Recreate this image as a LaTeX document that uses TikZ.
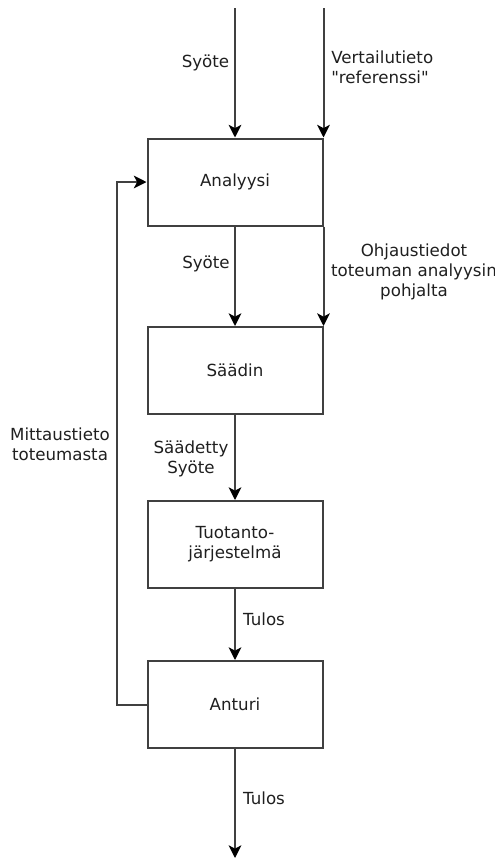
\documentclass[tikz,border=0pt]{standalone}
\usepackage{fontspec}
\setmainfont{DejaVu Sans}[Ligatures=TeXOff]
\usetikzlibrary{arrows.meta,positioning}
\tikzset{
  block/.style={draw=black!75,line width=1.5pt,minimum width=131.25pt,minimum height=65.25pt,
                inner sep=0pt,align=center,text=black!88},
  arrow/.style={-{Stealth[length=9.5pt,width=9.5pt,inset=2.5pt,black]},line width=1.5pt,draw=black!75},
  lbl/.style={inner sep=0pt,align=center,text=black!88}
}

\begin{document}
\begin{tikzpicture}[x=0.75pt,y=-0.75pt,font=\fontsize{12.5}{15}\selectfont]
  \useasboundingbox (0,0) rectangle (495,861);

  % Control chain, top to bottom.
  \node[block] (anal) at (235,182) {Analyysi};
  \node[block] (saadin) at (235,370.5) {Säädin};
  \node[block] (tuot) at (235,544.5) {Tuotanto-\\järjestelmä};
  \node[block] (anturi) at (235,704.5) {Anturi};

  \coordinate (inL) at (235,8);
  \coordinate (inR) at (anal.north east |- inL);
  \coordinate (out) at (235,858);

  \draw[arrow] (inL) -- (anal.north);
  \draw[arrow] (inR) -- (anal.north east);
  \draw[arrow] (anal.south) -- (saadin.north);
  \draw[arrow] (anal.south east) -- (saadin.north east);
  \draw[arrow] (saadin.south) -- (tuot.north);
  \draw[arrow] (tuot.south) -- (anturi.north);
  \draw[arrow] (anturi.south) -- (out);

  % Measurement feedback back to the analysis.
  \draw[arrow] (anturi.west) -- ++(-29.5,0) |- (anal.west);

  % Labels.
  \node[lbl] (l1) at (205.5,63) {Syöte};
  \node[lbl,anchor=west,align=left] (l2) at (331,67) {Vertailutieto\\"referenssi"};
  \node[lbl] (l3) at (206,264) {Syöte};
  \node[lbl] (l4) at (414,271.5) {Ohjaustiedot\\toteuman analyysin\\pohjalta};
  \node[lbl] (l5) at (60,444) {Mittaustieto\\toteumasta};
  \node[lbl] (l6) at (191,459) {Säädetty\\Syöte};
  \node[lbl] (l7) at (264,619) {Tulos};
  \node[lbl] (l8) at (264,798) {Tulos};
\end{tikzpicture}
\end{document}
